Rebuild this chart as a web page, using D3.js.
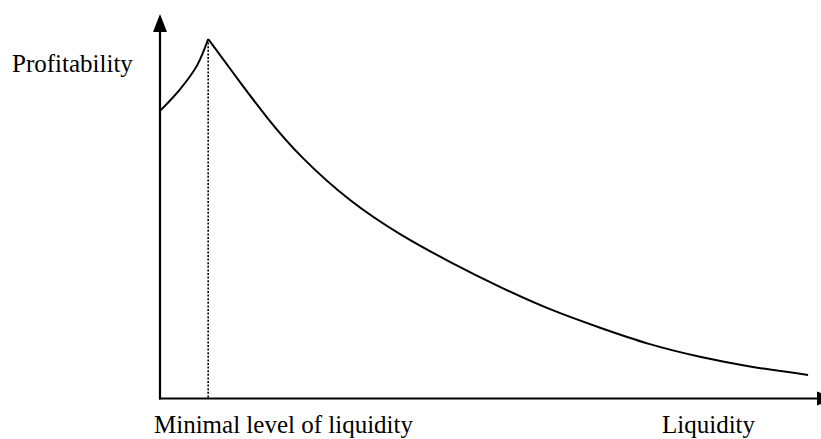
<!DOCTYPE html>
<html>
<head>
<meta charset="utf-8">
<script src="https://cdn.jsdelivr.net/npm/d3@7"></script>
<style>
  html, body { margin: 0; padding: 0; background: #fff; }
  svg { display: block; }
  text { font-family: "Liberation Serif", "Times New Roman", serif; fill: #000; }
</style>
</head>
<body>
<svg id="chart" width="821" height="439"></svg>
<script>
// Liquidity (x) and profitability (y), arbitrary units 0..100
const riseLiquidity = [0, 3.0, 5.6, 7.3];
const riseProfit    = [75.7, 81.3, 87.6, 94.6];
const fallLiquidity = [7.3, 12.1, 16.2, 21.2, 28.8, 36.4, 43.9, 51.5, 59.1, 66.7, 74.2, 81.8, 89.4, 98.2];
const fallProfit    = [94.6, 83.3, 73.8, 63.6, 51.7, 43.0, 35.9, 29.3, 23.3, 18.6, 14.1, 10.9, 8.3, 6.2];
const minimalLiquidity = 7.3;
const yAxisLabel = "Profitability";
const xAxisLabels = ["Minimal level of liquidity", "Liquidity"];

const svg = d3.select("#chart");
const x = d3.scaleLinear().domain([0, 100]).range([160, 820]);
const y = d3.scaleLinear().domain([0, 100]).range([398.5, 18.5]);

// Axes
const x0 = x(0), y0 = y(0);
svg.append("line").attr("x1", x0).attr("y1", y0 + 1).attr("x2", x0).attr("y2", 30)
  .attr("stroke", "#000").attr("stroke-width", 2.2);
svg.append("path").attr("d", `M${x0},14 L${x0 - 7},32 L${x0 + 7},32 Z`).attr("fill", "#000");

svg.append("line").attr("x1", x0 - 1).attr("y1", y0).attr("x2", 820).attr("y2", y0)
  .attr("stroke", "#000").attr("stroke-width", 2.2);
svg.append("path").attr("d", `M835,${y0} L817,${y0 - 7} L817,${y0 + 7} Z`).attr("fill", "#000");

// Dotted line at minimal liquidity
svg.append("line")
  .attr("x1", x(minimalLiquidity)).attr("x2", x(minimalLiquidity))
  .attr("y1", y(riseProfit[riseProfit.length - 1])).attr("y2", y0)
  .attr("stroke", "#000").attr("stroke-width", 1.6).attr("stroke-dasharray", "2,1.6");

// Curve (two branches meeting at a cusp)
const riseGen = d3.line().x(d => x(d[0])).y(d => y(d[1])).curve(d3.curveCatmullRom.alpha(0.5));
const fallGen = d3.line().x(d => x(d[0])).y(d => y(d[1])).curve(d3.curveBasis);
const rise = riseLiquidity.map((v, i) => [v, riseProfit[i]]);
const fall = fallLiquidity.map((v, i) => [v, fallProfit[i]]);
svg.append("path").attr("d", riseGen(rise)).attr("fill", "none").attr("stroke", "#000").attr("stroke-width", 2);
svg.append("path").attr("d", fallGen(fall)).attr("fill", "none").attr("stroke", "#000").attr("stroke-width", 2);

// Labels
svg.append("text").attr("x", 12).attr("y", 72).attr("font-size", 25).text(yAxisLabel);
svg.append("text").attr("x", 154).attr("y", 433).attr("font-size", 25).text(xAxisLabels[0]);
svg.append("text").attr("x", 662).attr("y", 433).attr("font-size", 25).text(xAxisLabels[1]);
</script>
</body>
</html>
